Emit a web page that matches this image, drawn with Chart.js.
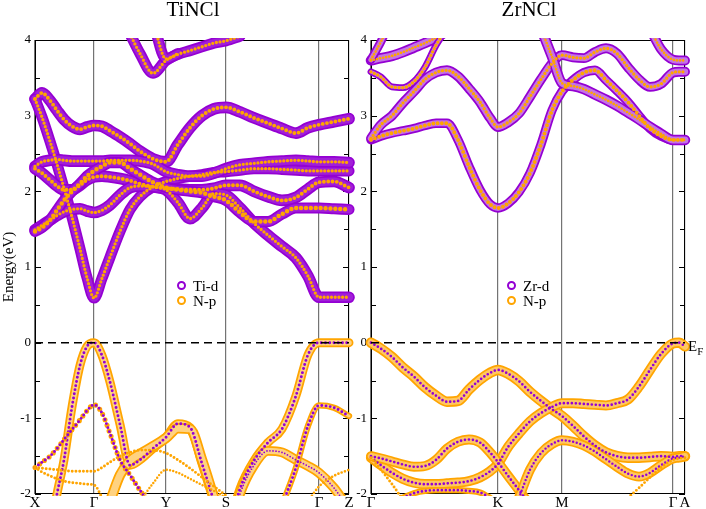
<!DOCTYPE html>
<html>
<head>
<meta charset="utf-8">
<script src="https://cdn.jsdelivr.net/npm/chart.js@4.4.1/dist/chart.umd.min.js"></script>
<style>
  html, body { margin: 0; padding: 0; background: #fff; }
  #wrap { position: relative; width: 706px; height: 509px; overflow: hidden;
          font-family: "Liberation Serif", "Times New Roman", serif; color: #000; }
  canvas { position: absolute; top: 0; }
  #cTi { left: 0; }
  #cZr { left: 345px; }
  .ttl { position: absolute; top: -1px; font-size: 21px; line-height: 21px; white-space: nowrap; transform: translateX(-50%); }
  .lg { position: absolute; font-size: 15px; line-height: 15px; white-space: nowrap; }
  .mk { position: absolute; width: 5px; height: 5px; border-radius: 50%; border: 2px solid; }
  #ef { position: absolute; left: 688px; top: 339px; font-size: 15px; line-height: 15px; }
  #ef sub { font-size: 11px; vertical-align: -4px; }
</style>
</head>
<body>
<div id="wrap">
  <canvas id="cTi" width="360" height="509"></canvas>
  <canvas id="cZr" width="361" height="509"></canvas>
  <div class="ttl" style="left:193px">TiNCl</div>
  <div class="ttl" style="left:529px">ZrNCl</div>

  <div class="mk" style="left:177px;top:281px;border-color:rgb(148,0,211)"></div>
  <div class="lg" style="left:193px;top:279px">Ti-d</div>
  <div class="mk" style="left:177px;top:296px;border-color:rgb(255,165,0)"></div>
  <div class="lg" style="left:193px;top:294px">N-p</div>

  <div class="mk" style="left:507px;top:281px;border-color:rgb(148,0,211)"></div>
  <div class="lg" style="left:523px;top:279px">Zr-d</div>
  <div class="mk" style="left:507px;top:296px;border-color:rgb(255,165,0)"></div>
  <div class="lg" style="left:523px;top:294px">N-p</div>

  <div id="ef">E<sub>F</sub></div>
</div>
<script>
  // ---- TiNCl: k path X-G-Y-S-G-Z, energies (eV) read at each k
  const tiK = [0, 7, 15, 22, 29, 37, 45, 52, 59, 67, 75, 85, 95, 105, 118, 131, 143, 155, 167, 179, 191, 205, 219, 233, 247, 261, 273, 284, 299, 314];
  const tiTickK = [0, 59, 131, 191, 284, 314];
  const tiTickLabels = ['X', 'Γ', 'Y', 'S', 'Γ', 'Z'];

  const tiA1 = [null, null, null, null, null, null, null, null, null, null, null, null, 4.08, 3.82, 3.56, 3.73, 3.81, 3.86, 3.91, 3.96, 3.99, 4.05, null, null, null, null, null, null, null, null];
  const tiA2 = [null, null, null, null, null, null, null, null, null, null, null, null, null, null, 4.25, 3.75, 3.82, null, null, null, null, null, null, null, null, null, null, null, null, null];
  const tiB = [3.22, 3.3, 3.2, 3.07, 2.95, 2.86, 2.82, 2.85, 2.87, 2.86, 2.8, 2.72, 2.63, 2.53, 2.43, 2.39, 2.62, 2.84, 3.0, 3.09, 3.11, 3.05, 2.97, 2.9, 2.83, 2.77, 2.84, 2.88, 2.92, 2.96];
  const tiC = [3.22, 2.98, 2.66, 2.36, 2.04, 1.66, 1.24, 0.86, 0.59, 0.85, 1.13, 1.47, 1.76, 1.93, 2.06, 2.13, 2.17, 2.2, 2.22, 2.25, 2.26, 2.28, 2.3, 2.3, 2.29, 2.28, 2.27, 2.27, 2.27, 2.27];
  const tiD = [2.33, 2.39, 2.41, 2.42, 2.41, 2.4, 2.4, 2.4, 2.4, 2.4, 2.41, 2.41, 2.41, 2.4, 2.36, 2.26, 2.22, 2.2, 2.2, 2.24, 2.3, 2.35, 2.37, 2.39, 2.4, 2.41, 2.4, 2.39, 2.39, 2.38];
  const tiE = [2.3, 2.24, 2.15, 2.07, 2.02, 2.02, 2.08, 2.15, 2.19, 2.2, 2.19, 2.17, 2.14, 2.1, 2.06, 2.04, 2.03, 2.02, 2.02, 2.04, 2.08, 2.08, 2.0, 1.93, 1.88, 1.92, 2.03, 2.12, 2.13, 2.05];
  const tiF = [1.49, 1.55, 1.62, 1.68, 1.73, 1.76, 1.77, 1.74, 1.72, 1.75, 1.82, 1.95, 2.05, 2.07, 2.06, 2.02, 1.85, 1.64, 1.78, 1.97, 1.95, 1.78, 1.58, 1.42, 1.27, 1.12, 0.88, 0.6, 0.6, 0.6];
  const tiG = [1.47, 1.52, 1.62, 1.75, 1.88, 2.0, 2.1, 2.2, 2.27, 2.33, 2.38, 2.38, 2.3, 2.22, 2.12, 2.05, 2.02, 2.0, 1.98, 1.93, 1.88, 1.72, 1.6, 1.6, 1.7, 1.78, 1.78, 1.78, 1.77, 1.76];
  const tiV1 = [null, null, -2.5, -2.0, -1.55, -0.85, -0.3, -0.05, 0.0, -0.17, -0.52, -1.08, -1.62, -1.55, -1.4, -1.25, -1.07, -1.12, -1.6, -2.1, null, null, null, null, null, null, null, null, null, null];
  const tiV2 = [-1.65, -1.58, -1.5, -1.4, -1.28, -1.15, -1.02, -0.9, -0.82, -0.93, -1.2, -1.55, -1.75, -1.95, -2.2, null, null, null, null, null, null, null, null, null, null, null, null, null, null, null];
  const tiV3 = [null, null, null, null, null, null, null, null, null, null, -2.1, -1.75, -1.56, -1.47, -1.37, -1.26, -1.13, -1.14, -1.55, -2.05, null, null, null, null, null, null, null, null, null, null];
  const tiV4 = [-1.65, -1.66, -1.67, -1.68, -1.69, -1.7, -1.7, -1.7, -1.7, -1.65, -1.58, -1.5, -1.45, -1.42, -1.42, -1.46, -1.55, -1.66, -1.78, -1.9, -2.02, null, null, null, null, null, null, null, null, null];
  const tiV5 = [-1.65, -1.71, -1.76, -1.8, -1.83, -1.85, -1.86, -1.87, -1.88, -2.05, -2.3, null, null, null, null, null, null, null, null, null, null, null, null, null, null, null, null, null, null, null];
  const tiV6 = [null, null, null, null, null, null, null, null, null, null, null, null, null, -2.1, -1.86, -1.68, -1.72, -1.8, -1.88, -1.96, -2.05, null, null, null, null, null, null, null, null, null];
  const tiV7 = [null, null, null, null, null, null, null, null, null, null, null, null, null, null, null, null, null, null, null, null, -2.6, -1.93, -1.56, -1.32, -1.14, -0.7, -0.16, 0.0, 0.0, 0.0];
  const tiV8 = [null, null, null, null, null, null, null, null, null, null, null, null, null, null, null, null, null, null, null, null, -2.7, -2.0, -1.62, -1.43, -1.45, -1.55, -1.63, -1.72, -1.92, -2.2];
  const tiV9 = [null, null, null, null, null, null, null, null, null, null, null, null, null, null, null, null, null, null, null, null, null, null, null, null, null, null, -2.1, -1.9, -1.76, -1.68];
  const tiV10 = [null, null, null, null, null, null, null, null, null, null, null, null, null, null, null, null, null, null, null, null, null, null, null, null, -2.15, -1.65, -1.1, -0.83, -0.86, -0.97];

  const tiBands = [tiA1, tiA2, tiB, tiC, tiD, tiE, tiF, tiG, tiV1, tiV2, tiV3, tiV4, tiV5, tiV6, tiV7, tiV8, tiV9, tiV10];
  // orbital weights per band (Ti-d, N-p)
  const tiDw = [0.8, 0.8, 0.85, 0.8, 0.85, 0.85, 0.85, 0.8, 0.12, 0.12, 0, 0, 0, 0, 0.12, 0.02, 0, 0.12];
  const tiPw = [0.15, 0.15, 0.2, 0.15, 0.15, 0.2, 0.15, 0.25, 0.62, 0.3, 0.75, 0.12, 0.12, 0.08, 0.62, 0.7, 0.1, 0.4];

  // ---- ZrNCl: k path G-K-M-G-A
  const zrK = [0, 10, 21, 32, 43, 54, 65, 76, 87, 98, 109, 119, 127, 137, 148, 159, 170, 181, 191, 202, 213, 224, 235, 246, 257, 268, 279, 290, 302, 308, 314];
  const zrTickK = [0, 127, 191, 302, 314];
  const zrTickLabels = ['Γ', 'K', 'M', 'Γ', 'A'];

  const zrR1 = [2.68, 2.73, 2.77, 2.8, 2.83, 2.87, 2.9, 2.9, 2.68, 2.33, 2.02, 1.83, 1.78, 1.84, 1.99, 2.24, 2.62, 3.07, 3.32, 3.47, 3.57, 3.6, 3.47, 3.33, 3.18, 3.0, 2.83, 2.73, 2.68, 2.68, 2.68];
  const zrR2 = [2.7, 2.88, 3.0, 3.17, 3.32, 3.48, 3.57, 3.6, 3.52, 3.36, 3.18, 2.97, 2.85, 2.91, 3.03, 3.25, 3.48, 3.69, 3.8, 3.77, 3.76, 3.84, 3.89, 3.82, 3.64, 3.48, 3.38, 3.42, 3.57, 3.58, 3.58];
  const zrR3 = [null, null, null, null, null, null, null, null, null, null, null, null, null, null, null, null, 4.15, 3.78, 3.43, 3.39, 3.35, 3.28, 3.21, 3.13, 3.04, 2.95, 2.85, 2.76, 2.68, 2.68, 2.68];
  const zrR4 = [3.73, 3.76, 3.79, 3.84, 3.9, 3.96, 4.03, 4.12, null, null, null, null, null, null, null, null, null, null, null, null, null, null, null, null, null, null, null, null, null, null, null];
  const zrR4b = [3.74, 3.98, 4.3, null, null, null, null, null, null, null, null, null, null, null, null, null, null, null, null, null, null, null, null, null, null, null, null, null, null, null, null];
  const zrR5 = [null, null, null, null, null, null, null, null, null, null, null, null, null, null, null, null, null, null, null, null, null, null, null, null, null, null, 4.15, 3.88, 3.74, 3.73, 3.73];
  const zrR6 = [3.58, 3.51, 3.38, 3.37, 3.45, 3.64, 3.93, 4.15, null, null, null, null, null, null, null, null, null, null, null, null, null, null, null, null, null, null, null, null, null, null, null];
  const zrV1 = [0.0, -0.08, -0.19, -0.33, -0.45, -0.59, -0.7, -0.78, -0.77, -0.62, -0.49, -0.4, -0.36, -0.41, -0.51, -0.65, -0.77, -0.88, -0.97, -1.1, -1.24, -1.36, -1.45, -1.5, -1.52, -1.52, -1.51, -1.5, -1.51, -1.5, -1.5];
  const zrV2 = [-1.52, -1.62, -1.72, -1.8, -1.85, -1.87, -1.87, -1.86, -1.85, -1.83, -1.78, -1.7, -1.6, -1.38, -1.2, -1.04, -0.93, -0.85, -0.8, -0.8, -0.81, -0.82, -0.83, -0.8, -0.75, -0.58, -0.36, -0.15, -0.01, 0.0, -0.05];
  const zrV3 = [-1.5, -1.53, -1.57, -1.61, -1.64, -1.63, -1.55, -1.4, -1.31, -1.28, -1.32, -1.45, -1.58, -1.76, -1.95, -2.15, null, null, null, null, null, null, null, null, null, null, null, null, null, null, null];
  const zrV4 = [null, null, null, null, null, null, null, null, null, null, null, null, null, null, -2.05, -1.68, -1.46, -1.34, -1.29, -1.31, -1.36, -1.44, -1.54, -1.64, -1.73, -1.77, -1.72, -1.62, -1.53, -1.52, -1.5];
  const zrV5 = [null, null, null, null, null, null, null, null, null, null, null, null, null, null, null, null, null, null, null, null, null, null, null, null, -2.05, -1.92, -1.78, -1.65, -1.55, -1.53, -1.52];
  const zrV6 = [-1.52, -1.68, -1.87, -2.08, null, null, null, null, null, null, null, null, null, null, null, null, null, null, null, null, null, null, null, null, null, null, null, null, null, null, null];
  const zrV7 = [null, null, null, -2.05, -1.99, -1.96, -1.95, -1.95, -1.95, -1.96, -1.98, -2.05, null, null, null, null, null, null, null, null, null, null, null, null, null, null, null, null, null, null, null];

  const zrBands = [zrR1, zrR2, zrR3, zrR4, zrR4b, zrR5, zrR6, zrV1, zrV2, zrV3, zrV4, zrV5, zrV6, zrV7];
  const zrDw = [0.65, 0.7, 0.75, 0.75, 0.6, 0.7, 0.45, 0.1, 0.1, 0.1, 0.08, 0, 0, 0.1];
  const zrPw = [0.2, 0.15, 0.1, 0.1, 0.1, 0.1, 0.15, 0.75, 0.72, 0.7, 0.7, 0.12, 0.12, 0.4];

  const PURPLE = 'rgb(148,0,211)';
  const ORANGE = 'rgb(255,165,0)';
  const SERIF = '"Liberation Serif", "Times New Roman", serif';

  Chart.defaults.font.family = SERIF;
  Chart.defaults.color = '#000';

  function line(pts, color, width, dash) {
    return {
      data: pts,
      borderColor: color,
      borderWidth: width,
      borderDash: dash || [],
      borderCapStyle: 'round',
      borderJoinStyle: 'round',
      pointRadius: 0,
      cubicInterpolationMode: 'monotone',
      spanGaps: false,
      fill: false,
      clip: {left: 7, right: 7, top: 2, bottom: 2}
    };
  }

  // one fat band = wide stroke for the main orbital + dotted core for the other one
  function bandLayers(k, bands, dW, pW, innerAlpha) {
    const under = [], over = [];
    bands.forEach((e, i) => {
      const pts = k.map((x, j) => ({x: x, y: e[j]}));
      const dMain = dW[i] >= pW[i];
      const big = Math.max(dW[i], pW[i]);
      const small = Math.min(dW[i], pW[i]);
      const wMain = 1.5 + 12 * big;
      const cMain = dMain ? PURPLE : ORANGE;
      const cMinor = dMain ? ORANGE : PURPLE;
      if (wMain >= 6) {
        under.push(line(pts, cMain, wMain));
        const a = dMain ? innerAlpha[0] : innerAlpha[1];
        if (a > 0) under.push(line(pts, 'rgba(255,255,255,' + a + ')', wMain - 3.5));
      } else {
        over.push(line(pts, cMain, wMain, [0, wMain + 0.8]));
      }
      if (small > 0) {
        const wMinor = 1.5 + 12 * small;
        over.push(line(pts, cMinor, wMinor, [0, wMinor + (dMain ? 0.4 : 1.3)]));
      }
    });
    return under.concat(over);
  }

  // frame and inward tick marks, like the original plotting program
  const framePlugin = {
    id: 'frame',
    beforeDatasetsDraw(chart) {
      const {ctx, chartArea: a, scales: {y}} = chart;
      ctx.save();
      ctx.strokeStyle = '#000';
      ctx.lineWidth = 1;
      ctx.strokeRect(a.left + 0.5, a.top + 0.5, a.right - a.left - 1, a.bottom - a.top - 1);
      ctx.beginPath();
      for (let v = y.min; v <= y.max + 1e-9; v += 0.5) {
        const py = Math.round(y.getPixelForValue(v)) + 0.5;
        const len = Number.isInteger(v) ? 6 : 5;
        ctx.moveTo(a.left, py); ctx.lineTo(a.left + len, py);
        ctx.moveTo(a.right, py); ctx.lineTo(a.right - len, py);
      }
      ctx.stroke();
      ctx.restore();
    }
  };

  function makeChart(id, k, tickK, tickLabels, bands, dW, pW, innerAlpha, yWidth, padRight, yTitle) {
    const sets = bandLayers(k, bands, dW, pW, innerAlpha);
    const zero = line([{x: k[0], y: 0}, {x: k[k.length - 1], y: 0}], '#000', 1.5, [8, 5]);
    zero.borderCapStyle = 'butt';
    zero.clip = 0;
    sets.push(zero);
    sets.forEach((s, i) => { s.order = sets.length - i; });

    return new Chart(document.getElementById(id), {
      type: 'line',
      data: {datasets: sets},
      plugins: [framePlugin],
      options: {
        responsive: false,
        animation: false,
        events: [],
        layout: {padding: {top: 40, right: padRight, bottom: 0, left: 0}},
        plugins: {legend: {display: false}, tooltip: {enabled: false}},
        scales: {
          x: {
            type: 'linear',
            min: k[0],
            max: k[k.length - 1],
            afterBuildTicks: s => { s.ticks = tickK.map(v => ({value: v})); },
            afterFit: s => { s.height = 15; },
            ticks: {
              autoSkip: false,
              maxRotation: 0,
              padding: 0,
              font: {size: 15},
              callback: (v, i) => tickLabels[i]
            },
            grid: {color: 'rgba(90,90,90,0.85)', lineWidth: 1.2, drawTicks: false},
            border: {display: false}
          },
          y: {
            min: -2,
            max: 4,
            afterFit: s => { s.width = yWidth; },
            ticks: {stepSize: 1, padding: 4, font: {size: 13}},
            grid: {display: false, drawTicks: false},
            border: {display: false},
            title: yTitle ? {display: true, text: yTitle, font: {size: 15}, padding: 0} : {display: false}
          }
        }
      }
    });
  }

  makeChart('cTi', tiK, tiTickK, tiTickLabels, tiBands, tiDw, tiPw, [0.12, 0.5], 35, 11, 'Energy(eV)');
  makeChart('cZr', zrK, zrTickK, zrTickLabels, zrBands, zrDw, zrPw, [0.45, 0.38], 26, 21, null);
</script>
</body>
</html>
